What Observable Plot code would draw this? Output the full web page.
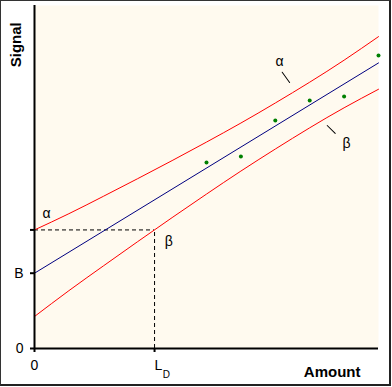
<!DOCTYPE html>
<html>
<head>
<meta charset="utf-8">
<script src="https://cdn.jsdelivr.net/npm/d3@7"></script>
<script src="https://cdn.jsdelivr.net/npm/@observablehq/plot@0.6"></script>
<style>
  html, body { margin: 0; padding: 0; background: #ffffff; }
  #wrap { position: relative; width: 392px; height: 387px; }
  #border { position: absolute; left: 0; top: 0; width: 391px; height: 386px; box-sizing: border-box;
            border-top: 1px solid #333; border-left: 1px solid #333;
            border-right: 2px solid #222; border-bottom: 2px solid #222; pointer-events: none; }
  svg { display: block; }
</style>
</head>
<body>
<div id="wrap"><div id="border"></div></div>
<script>
// Calibration standards (green points)
const amounts = [5, 6, 7, 8, 9, 10];
const signals = [5.42, 5.60, 6.65, 7.23, 7.35, 8.54];

// Regression line end points
const fitX = [0, 10];
const fitY = [2.195, 8.325];

// Confidence band (red curves)
const bandX = [0, 1, 2, 3, 4, 5, 6, 7, 8, 9, 10];
const upperBand = [3.457, 3.930, 4.436, 4.952, 5.478, 6.018, 6.573, 7.157, 7.764, 8.406, 9.092];
const lowerBand = [0.933, 1.686, 2.406, 3.116, 3.816, 4.502, 5.173, 5.815, 6.434, 7.018, 7.558];

// Key levels
const blankSignal = fitY[0];       // B
const alphaLevel = upperBand[0];   // critical level
const detectionLimit = 3.49;       // L_D

// Tick labels
const yTickLabels = ["0", "B"];
const xTickLabels = ["0", "L", "D"];
const axisTitles = ["Amount", "Signal"];
const greek = ["α", "β"];

const red = "#ff0000";
const navy = "#000080";
const green = "#008000";
const cream = "#fffaef";

const pts = (xs, ys) => xs.map((x, i) => ({x, y: ys[i]}));
const upperPts = pts(bandX, upperBand);
const lowerPts = pts(bandX, lowerBand);
const fitPts = pts(fitX, fitY);
const dataPts = pts(amounts, signals);

const lineShape = { draw(context, l) { context.moveTo(0, 0); context.lineTo(0, -l); } };

const chart = Plot.plot({
  width: 392,
  height: 387,
  marginLeft: 34,
  marginRight: 14,
  marginTop: 5,
  marginBottom: 39,
  x: { domain: [0, 10], axis: null },
  y: { domain: [0, 10], axis: null },
  style: { fontFamily: "'Liberation Sans', Arial, sans-serif", fontSize: "14px", background: "transparent", color: "black" },
  marks: [
    Plot.frame({ fill: cream, stroke: "none" }),
    // dashed construction lines
    Plot.ruleY([alphaLevel], { y: d => d, x1: () => 0, x2: () => detectionLimit, stroke: "black", strokeDasharray: "4,3" }),
    Plot.ruleX([detectionLimit], { x: d => d, y1: () => 0, y2: () => alphaLevel, stroke: "black", strokeDasharray: "4,3" }),
    // band and fit
    Plot.line(upperPts, { x: "x", y: "y", stroke: red, strokeWidth: 1, curve: "natural" }),
    Plot.line(lowerPts, { x: "x", y: "y", stroke: red, strokeWidth: 1, curve: "natural" }),
    Plot.line(fitPts, { x: "x", y: "y", stroke: navy, strokeWidth: 1 }),
    Plot.dot(dataPts, { x: "x", y: "y", r: 2, fill: green, stroke: "none" }),
    // axis lines
    Plot.ruleY([0], { stroke: "black", strokeWidth: 2 }),
    Plot.ruleX([0], { stroke: "black", strokeWidth: 2 }),
    // ticks
    Plot.axisY({ ticks: [0, blankSignal, alphaLevel], tickFormat: d => d === 0 ? yTickLabels[0] : d === blankSignal ? yTickLabels[1] : "",
                 tickSize: 4, tickPadding: 7, strokeWidth: 2, fontSize: 14, label: null }),
    Plot.axisX({ ticks: [0, detectionLimit], tickFormat: d => d === 0 ? xTickLabels[0] : "",
                 tickSize: 4, tickPadding: 8, strokeWidth: 2, fontSize: 14, label: null }),
    // L_D label
    Plot.text([detectionLimit], { x: d => d, frameAnchor: "bottom", text: () => xTickLabels[1], textAnchor: "start", lineAnchor: "top", dx: 0, dy: 12, fontSize: 14 }),
    Plot.text([detectionLimit], { x: d => d, frameAnchor: "bottom", text: () => xTickLabels[2], textAnchor: "start", lineAnchor: "top", dx: 8.3, dy: 22, fontSize: 10 }),
    // axis titles
    Plot.text([axisTitles[0]], { frameAnchor: "bottom-right", textAnchor: "end", lineAnchor: "bottom", dx: -18, dy: 28, fontWeight: "bold", fontSize: 15 }),
    Plot.text([axisTitles[1]], { frameAnchor: "top-left", textAnchor: "end", rotate: -90, dx: -23.8, dy: 16.7, fontWeight: "bold", fontSize: 15 }),
    // alpha / beta annotations
    Plot.text([upperPts[0]], { x: "x", y: "y", text: () => greek[0], dx: 12, dy: -16.4, fontSize: 14 }),
    Plot.text([{x: detectionLimit, y: alphaLevel}], { x: "x", y: "y", text: () => greek[1], dx: 14.2, dy: 12, fontSize: 14 }),
    Plot.text([upperPts[7]], { x: "x", y: "y", text: () => greek[0], dx: 4.2, dy: -41.5, fontSize: 14 }),
    Plot.text([lowerPts[9]], { x: "x", y: "y", text: () => greek[1], dx: 2.4, dy: 35.7, fontSize: 14 }),
    Plot.vector([upperPts[7]], { x: "x", y: "y", length: () => 14.3, rotate: 144.4, anchor: "start", shape: lineShape, dx: 6.9, dy: -30.8, stroke: "black", strokeWidth: 1 }),
    Plot.vector([lowerPts[9]], { x: "x", y: "y", length: () => 12.7, rotate: 135, anchor: "start", shape: lineShape, dx: -16.9, dy: 17.7, stroke: "black", strokeWidth: 1 })
  ]
});
document.getElementById("wrap").prepend(chart);
</script>
</body>
</html>
